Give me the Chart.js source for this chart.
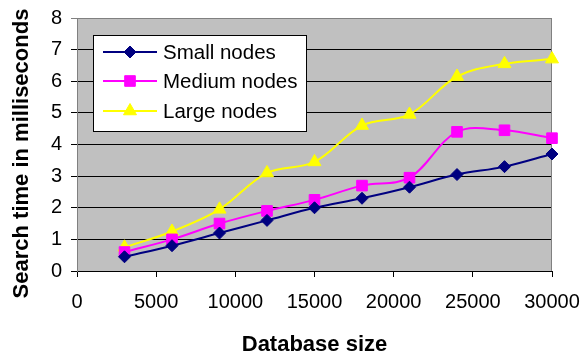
<!DOCTYPE html>
<html>
<head>
<meta charset="utf-8">
<script src="https://cdn.jsdelivr.net/npm/chart.js@4/dist/chart.umd.min.js"></script>
<style>
  html, body { margin: 0; padding: 0; background: #ffffff; }
  #wrap { width: 580px; height: 356px; }
</style>
</head>
<body>
<div id="wrap"><canvas id="chart" width="580" height="356"></canvas></div>
<script>
// Search time (ms) against database size for three node sizes
const databaseSizes = [3000, 6000, 9000, 12000, 15000, 18000, 21000, 24000, 27000, 30000];
const smallNodes  = [0.45, 0.80, 1.20, 1.60, 2.00, 2.30, 2.65, 3.05, 3.30, 3.70];
const mediumNodes = [0.60, 1.00, 1.50, 1.90, 2.25, 2.70, 2.95, 4.40, 4.45, 4.20];
const largeNodes  = [0.75, 1.25, 1.95, 3.10, 3.45, 4.60, 4.95, 6.15, 6.55, 6.70];
const seriesNames = ['Small nodes', 'Medium nodes', 'Large nodes'];
const xTickValues = [0, 5000, 10000, 15000, 20000, 25000, 30000];
const yTickValues = [0, 1, 2, 3, 4, 5, 6, 7, 8];
const xTitle = 'Database size';
const yTitle = 'Search time in milliseconds';

const FONT = "'Liberation Sans', Arial, sans-serif";

function toPoints(values) {
  return databaseSizes.map((x, i) => ({ x: x, y: values[i] }));
}

const styles = [
  { color: '#000080', pointStyle: 'rectRot',  radius: 6 },
  { color: '#FF00FF', pointStyle: 'rect',     radius: 7.5 },
  { color: '#FFFF00', pointStyle: 'triangle', radius: 7.5 }
];
const seriesValues = [smallNodes, mediumNodes, largeNodes];

const datasets = seriesValues.map((vals, i) => ({
  label: seriesNames[i],
  data: toPoints(vals),
  borderColor: styles[i].color,
  backgroundColor: styles[i].color,
  borderWidth: 2,
  pointStyle: styles[i].pointStyle,
  pointRadius: styles[i].radius,
  pointHoverRadius: styles[i].radius,
  pointBackgroundColor: styles[i].color,
  pointBorderColor: styles[i].color,
  pointBorderWidth: 1,
  tension: 0.35,
  clip: false
}));

// Grey plot background and the thin grey frame around the plot area
const plotFrame = {
  id: 'plotFrame',
  beforeDraw(chart) {
    const { ctx, chartArea: a } = chart;
    ctx.save();
    ctx.fillStyle = '#C0C0C0';
    ctx.fillRect(a.left, a.top, a.right - a.left, a.bottom - a.top);
    ctx.restore();
  },
  beforeDatasetsDraw(chart) {
    const { ctx, chartArea: a } = chart;
    ctx.save();
    ctx.strokeStyle = '#808080';
    ctx.lineWidth = 1;
    ctx.beginPath();
    ctx.moveTo(Math.round(a.left) + 0.5, Math.round(a.top) + 0.5);
    ctx.lineTo(Math.round(a.right) - 0.5, Math.round(a.top) + 0.5);
    ctx.lineTo(Math.round(a.right) - 0.5, Math.round(a.bottom));
    ctx.stroke();
    ctx.restore();
  }
};

// Vertical axis title, rotated and placed beside the tick labels
const yAxisTitle = {
  id: 'yAxisTitle',
  afterDraw(chart) {
    const { ctx, chartArea: a } = chart;
    ctx.save();
    ctx.translate(22, (a.top + a.bottom) / 2 + 9);
    ctx.rotate(-Math.PI / 2);
    ctx.font = 'bold 22px ' + FONT;
    ctx.fillStyle = '#000';
    ctx.textAlign = 'center';
    ctx.textBaseline = 'middle';
    ctx.fillText(yTitle, 0, 0);
    ctx.restore();
  }
};

// Boxed legend sitting inside the plot area
const boxedLegend = {
  id: 'boxedLegend',
  afterDraw(chart) {
    const { ctx } = chart;
    const box = { x: 93.5, y: 35.5, w: 213, h: 96 };
    ctx.save();
    ctx.fillStyle = '#ffffff';
    ctx.fillRect(box.x, box.y, box.w, box.h);
    ctx.strokeStyle = '#000';
    ctx.lineWidth = 1;
    ctx.strokeRect(box.x, box.y, box.w, box.h);
    const rows = [52, 81, 111];
    chart.data.datasets.forEach((ds, i) => {
      const y = rows[i];
      ctx.strokeStyle = ds.borderColor;
      ctx.lineWidth = 2;
      ctx.beginPath();
      ctx.moveTo(103, y);
      ctx.lineTo(157, y);
      ctx.stroke();
      ctx.fillStyle = ds.pointBackgroundColor;
      ctx.strokeStyle = ds.pointBorderColor;
      ctx.lineWidth = 1;
      Chart.helpers.drawPoint(ctx, {
        pointStyle: ds.pointStyle,
        radius: ds.pointRadius,
        rotation: 0,
        borderWidth: 1
      }, 130, y);
      ctx.fillStyle = '#000';
      ctx.font = '20.5px ' + FONT;
      ctx.textAlign = 'left';
      ctx.textBaseline = 'middle';
      ctx.fillText(ds.label, 163, y + 1);
    });
    ctx.restore();
  }
};

new Chart(document.getElementById('chart'), {
  type: 'line',
  data: { datasets: datasets },
  plugins: [plotFrame, yAxisTitle, boxedLegend],
  options: {
    responsive: false,
    animation: false,
    devicePixelRatio: 1,
    layout: { padding: { top: 18, right: 28, left: 0, bottom: 0 } },
    plugins: {
      legend: { display: false },
      tooltip: { enabled: false }
    },
    scales: {
      x: {
        type: 'linear',
        min: xTickValues[0],
        max: xTickValues[xTickValues.length - 1],
        afterBuildTicks(scale) { scale.ticks = xTickValues.map(v => ({ value: v })); },
        afterFit(scale) {
          scale.height = 85;
          scale.paddingLeft = 0;
          scale.paddingRight = 0;
        },
        ticks: {
          color: '#000',
          font: { family: FONT, size: 20 },
          padding: 13,
          maxRotation: 0,
          autoSkip: false,
          callback: v => String(v)
        },
        grid: {
          drawOnChartArea: false,
          drawTicks: true,
          tickLength: 6,
          color: '#000'
        },
        border: { display: true, color: '#000', width: 1 },
        title: {
          display: true,
          text: xTitle,
          color: '#000',
          font: { family: FONT, size: 22, weight: 'bold' },
          padding: { top: 0, bottom: -2 }
        }
      },
      y: {
        type: 'linear',
        min: yTickValues[0],
        max: yTickValues[yTickValues.length - 1],
        afterBuildTicks(scale) { scale.ticks = yTickValues.map(v => ({ value: v })); },
        afterFit(scale) {
          scale.width = 77;
          scale.paddingTop = 0;
          scale.paddingBottom = 0;
        },
        ticks: {
          color: '#000',
          font: { family: FONT, size: 20 },
          padding: 9,
          autoSkip: false,
          callback: v => String(v)
        },
        grid: {
          drawTicks: true,
          tickLength: 6,
          color: ctx => (ctx.tick && ctx.tick.value === yTickValues[yTickValues.length - 1]) ? '#808080' : '#000',
          lineWidth: 1
        },
        border: { display: true, color: '#808080', width: 1 },
        title: { display: false }
      }
    }
  }
});
</script>
</body>
</html>
